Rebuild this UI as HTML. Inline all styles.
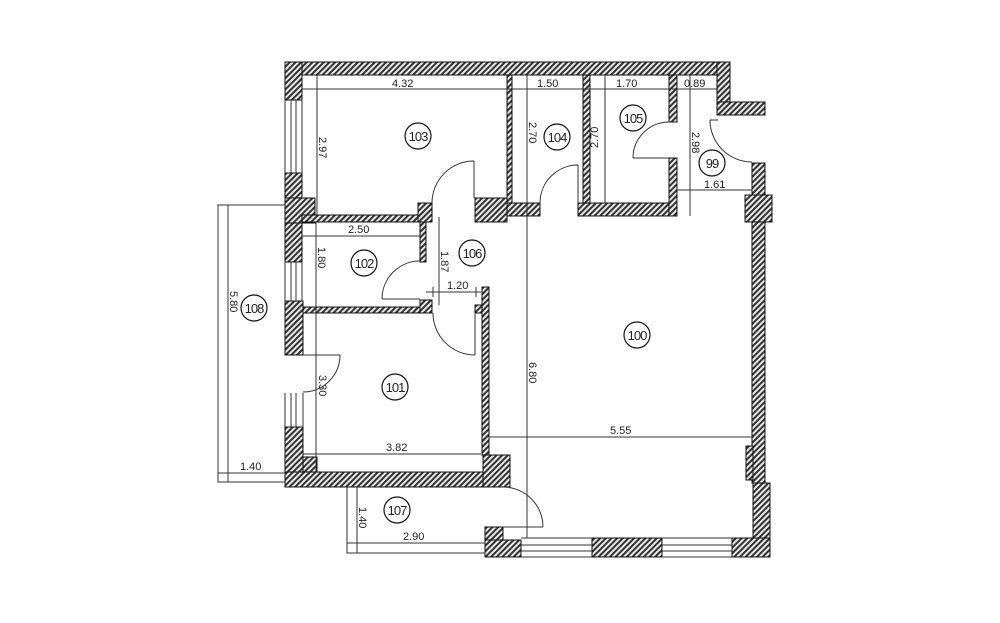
<!DOCTYPE html>
<html><head><meta charset="utf-8"><style>
html,body{margin:0;padding:0;background:#fff;}
svg{display:block;}
text{font-family:"Liberation Sans",sans-serif;font-size:11px;fill:#222;}
.c{font-size:13px;letter-spacing:-1px;}
</style></head><body>
<svg width="1000" height="623" viewBox="0 0 1000 623" xmlns="http://www.w3.org/2000/svg">
<defs>
<pattern id="h" width="4" height="4" patternUnits="userSpaceOnUse" patternTransform="rotate(45)">
<rect width="4" height="4" fill="#e8e8e8"/><rect width="2" height="4" fill="#333"/>
</pattern>
</defs>
<rect width="1000" height="623" fill="#fff"/>
<g fill="url(#h)" stroke="#111" stroke-width="1">
<!-- top wall -->
<rect x="285" y="62" width="445" height="13"/>
<rect x="717" y="62" width="13" height="53"/>
<rect x="717" y="102" width="48" height="13"/>
<!-- left wall -->
<rect x="285" y="62" width="17" height="38"/>
<rect x="285" y="173" width="17" height="89"/>
<rect x="285" y="198" width="30" height="25"/>
<rect x="285" y="301" width="18" height="54"/>
<rect x="285" y="427" width="18" height="60"/>
<rect x="285" y="472" width="225" height="15"/>
<rect x="303" y="457" width="14" height="15"/>
<rect x="483" y="455" width="27" height="32"/>
<!-- interior -->
<rect x="507" y="75" width="5" height="128"/>
<rect x="475" y="198" width="32" height="24"/>
<rect x="507" y="203" width="33" height="13"/>
<rect x="583" y="75" width="7" height="141"/>
<rect x="578" y="203" width="99" height="13"/>
<rect x="669" y="75" width="8" height="47"/>
<rect x="669" y="158" width="8" height="58"/>
<rect x="302" y="215" width="123" height="7"/>
<rect x="418" y="203" width="14" height="19"/>
<rect x="420" y="222" width="6" height="40"/>
<rect x="303" y="307" width="129" height="6"/>
<rect x="420" y="300" width="12" height="13"/>
<rect x="482" y="287" width="7" height="168"/>
<rect x="475" y="305" width="7" height="8"/>
<!-- right wall -->
<rect x="752" y="163" width="13" height="320"/>
<rect x="745" y="195" width="27" height="27"/>
<rect x="746" y="446" width="7" height="34"/>
<rect x="753" y="483" width="17" height="74"/>
<rect x="732" y="538" width="38" height="19"/>
<!-- bottom wall -->
<rect x="485" y="527" width="18" height="30"/>
<rect x="485" y="540" width="36" height="17"/>
<rect x="592" y="538" width="70" height="19"/>
</g>
<g stroke="#333" stroke-width="1" fill="none">
<!-- windows -->
<path d="M291 100V173M296 100V173M291 262V301M296 262V301M291 393V427M296 393V427"/>
<path d="M285 100V173M302 100V173M285 262V301M302 262V301M285 393V427M303 393V427"/>
<path d="M521 538H592M521 545H592M521 551H592M521 557H592M662 538H732M662 545H732M662 551H732M662 557H732"/>
<!-- balcony 108 -->
<path d="M285 205H218V482H285M228 205V482M218 473H285"/>
<!-- 107 -->
<path d="M347 487V553H485M357 487V553M347 543H485"/>
<!-- doors -->
<path d="M474 161V198M474 161A42 42 0 0 0 432 203"/>
<path d="M578 165V203M578 165A38 38 0 0 0 540 203"/>
<path d="M633 158H669M633 158A36 36 0 0 1 669 122"/>
<path d="M710 120H718M710 120A42 42 0 0 0 752 162"/>
<path d="M382 299H420M382 299A38 38 0 0 1 420 261"/>
<path d="M475 313V355M433 313A42 42 0 0 0 475 355"/>
<path d="M303 355H340M340 355A37 37 0 0 1 303 392"/>
<path d="M503 527H543M503 487A40 40 0 0 1 543 527"/>
<!-- dimension lines -->
<path d="M302 89H718M317 75V215M527 75V538M605 75V203M690 75V216M677 190H752"/>
<path d="M302 236H420M316 222V472M439 217V305M426 292H481M433 287V297M476 287V297"/>
<path d="M303 454H481M489 437H753"/>
</g>
<g>
<text x="392" y="87">4.32</text>
<text x="537" y="87">1.50</text>
<text x="616" y="87">1.70</text>
<text x="684" y="87">0.89</text>
<text x="348" y="233">2.50</text>
<text x="447" y="289">1.20</text>
<text x="704" y="188">1.61</text>
<text x="386" y="451">3.82</text>
<text x="610" y="434">5.55</text>
<text x="240" y="470">1.40</text>
<text x="403" y="540">2.90</text>
<text transform="translate(319,137) rotate(90)">2.97</text>
<text transform="translate(529,122) rotate(90)">2.70</text>
<text transform="translate(598,148) rotate(-90)">2.70</text>
<text transform="translate(692,132) rotate(90)">2.98</text>
<text transform="translate(318,247) rotate(90)">1.80</text>
<text transform="translate(441,251) rotate(90)">1.87</text>
<text transform="translate(230,291) rotate(90)">5.80</text>
<text transform="translate(319,375) rotate(90)">3.30</text>
<text transform="translate(529,362) rotate(90)">6.80</text>
<text transform="translate(359,507) rotate(90)">1.40</text>
</g>
<g fill="none" stroke="#111" stroke-width="1.2">
<circle cx="418" cy="136" r="13"/><circle cx="557" cy="137" r="13"/>
<circle cx="633" cy="118" r="13"/><circle cx="712" cy="163" r="13"/>
<circle cx="364" cy="263" r="13"/><circle cx="472" cy="253" r="13"/>
<circle cx="637" cy="335" r="13"/><circle cx="395" cy="387" r="13"/>
<circle cx="254" cy="308" r="13"/><circle cx="397" cy="510" r="13"/>
</g>
<g class="c" text-anchor="middle">
<text class="c" x="418" y="141">103</text><text class="c" x="557" y="142">104</text>
<text class="c" x="633" y="123">105</text><text class="c" x="712" y="168">99</text>
<text class="c" x="364" y="268">102</text><text class="c" x="472" y="258">106</text>
<text class="c" x="637" y="340">100</text><text class="c" x="395" y="392">101</text>
<text class="c" x="254" y="313">108</text><text class="c" x="397" y="515">107</text>
</g>
</svg>
</body></html>
